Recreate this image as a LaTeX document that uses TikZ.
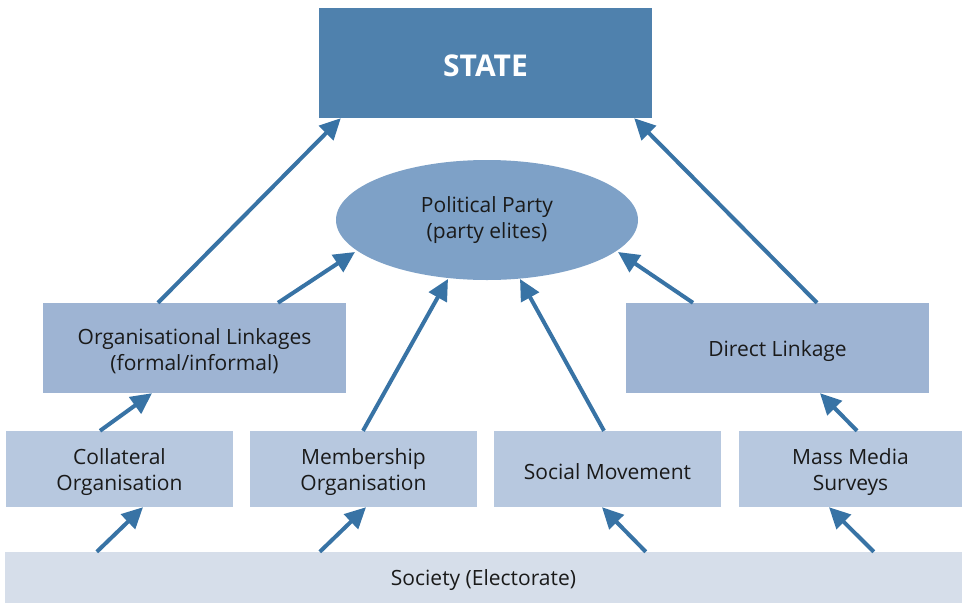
\documentclass[tikz,border=0pt]{standalone}
\usepackage{fontspec}
\setmainfont{Open Sans}
\usetikzlibrary{arrows.meta,shapes.geometric}
\definecolor{stateblue}{HTML}{4F81AD}
\definecolor{partyblue}{HTML}{7EA1C7}
\definecolor{linkblue}{HTML}{9EB4D3}
\definecolor{orgblue}{HTML}{B7C8DF}
\definecolor{socblue}{HTML}{D6DEEA}
\definecolor{arrowblue}{HTML}{3873A5}
\definecolor{txt}{HTML}{1A1A1A}
\begin{document}
\begin{tikzpicture}[x=1pt,y=-1pt,
  box/.style={rectangle, inner sep=0pt, label={[align=center, text=txt, yshift=-3pt, font=\fontsize{21}{25.5}\selectfont]center:#1}},
  linkbox/.style={box={#1}, fill=linkblue, minimum width=303pt, minimum height=90pt},
  orgbox/.style={box={#1}, fill=orgblue, minimum width=227pt, minimum height=76pt},
  arr/.style={draw=arrowblue, line width=4pt, -{Triangle[length=21pt,width=20pt]}}]
\useasboundingbox (0,0) rectangle (962,603);
\node[rectangle, fill=stateblue, minimum width=333pt, minimum height=110pt, text height=26.4pt, text depth=0pt, text=white, font=\fontsize{30}{36}\selectfont\bfseries] (state) at (485.5,63){STATE};
\node[ellipse, fill=partyblue, inner sep=0pt, minimum width=302pt, minimum height=120pt, align=center, text=txt, font=\fontsize{21}{25.5}\selectfont] (party) at (487,220){Political Party\\(party elites)};
\node[linkbox={Organisational Linkages\\(formal/informal)}] (orglink) at (194.5,348){};
\node[linkbox={Direct Linkage}] (direct) at (777.5,348){};
\node[orgbox={Collateral\\Organisation}] (collat) at (119.5,469){};
\node[orgbox={Membership\\Organisation}] (member) at (363.5,469){};
\node[orgbox={Social Movement}] (social) at (607.5,469){};
\node[orgbox={Mass Media\\Surveys}, minimum width=223pt] (media) at (850.5,469){};
\node[box={Society (Electorate)}, fill=socblue, minimum width=957pt, minimum height=51pt] (society) at (483.5,577.5){};
\draw[arr] ([xshift=-36.5pt]orglink.north) -- ([xshift=22pt]state.south west);
\draw[arr] ([xshift=83.5pt]orglink.north) -- ([xshift=-132pt,yshift=-32pt]party.center);
\draw[arr] ([xshift=-0.5pt]member.north) -- ([xshift=-39pt,yshift=-59pt]party.center);
\draw[arr] ([xshift=-3.5pt]social.north) -- ([xshift=33pt,yshift=-59pt]party.center);
\draw[arr] ([xshift=-84.5pt]direct.north) -- ([xshift=131pt,yshift=-32pt]party.center);
\draw[arr] ([xshift=39.5pt]direct.north) -- ([xshift=-18pt]state.south east);
\draw[arr] ([xshift=-19.5pt]collat.north) -- ([xshift=-42.5pt]orglink.south);
\draw[arr] ([xshift=6.5pt]media.north) -- ([xshift=42.5pt]direct.south);
\draw[arr] ([xshift=92pt]society.north west) -- ([xshift=23.5pt]collat.south);
\draw[arr] ([xshift=315pt]society.north west) -- ([xshift=2.5pt]member.south);
\draw[arr] ([xshift=641pt]society.north west) -- ([xshift=-5.5pt]social.south);
\draw[arr] ([xshift=869pt]society.north west) -- ([xshift=-21.5pt]media.south);
\end{tikzpicture}
\end{document}
